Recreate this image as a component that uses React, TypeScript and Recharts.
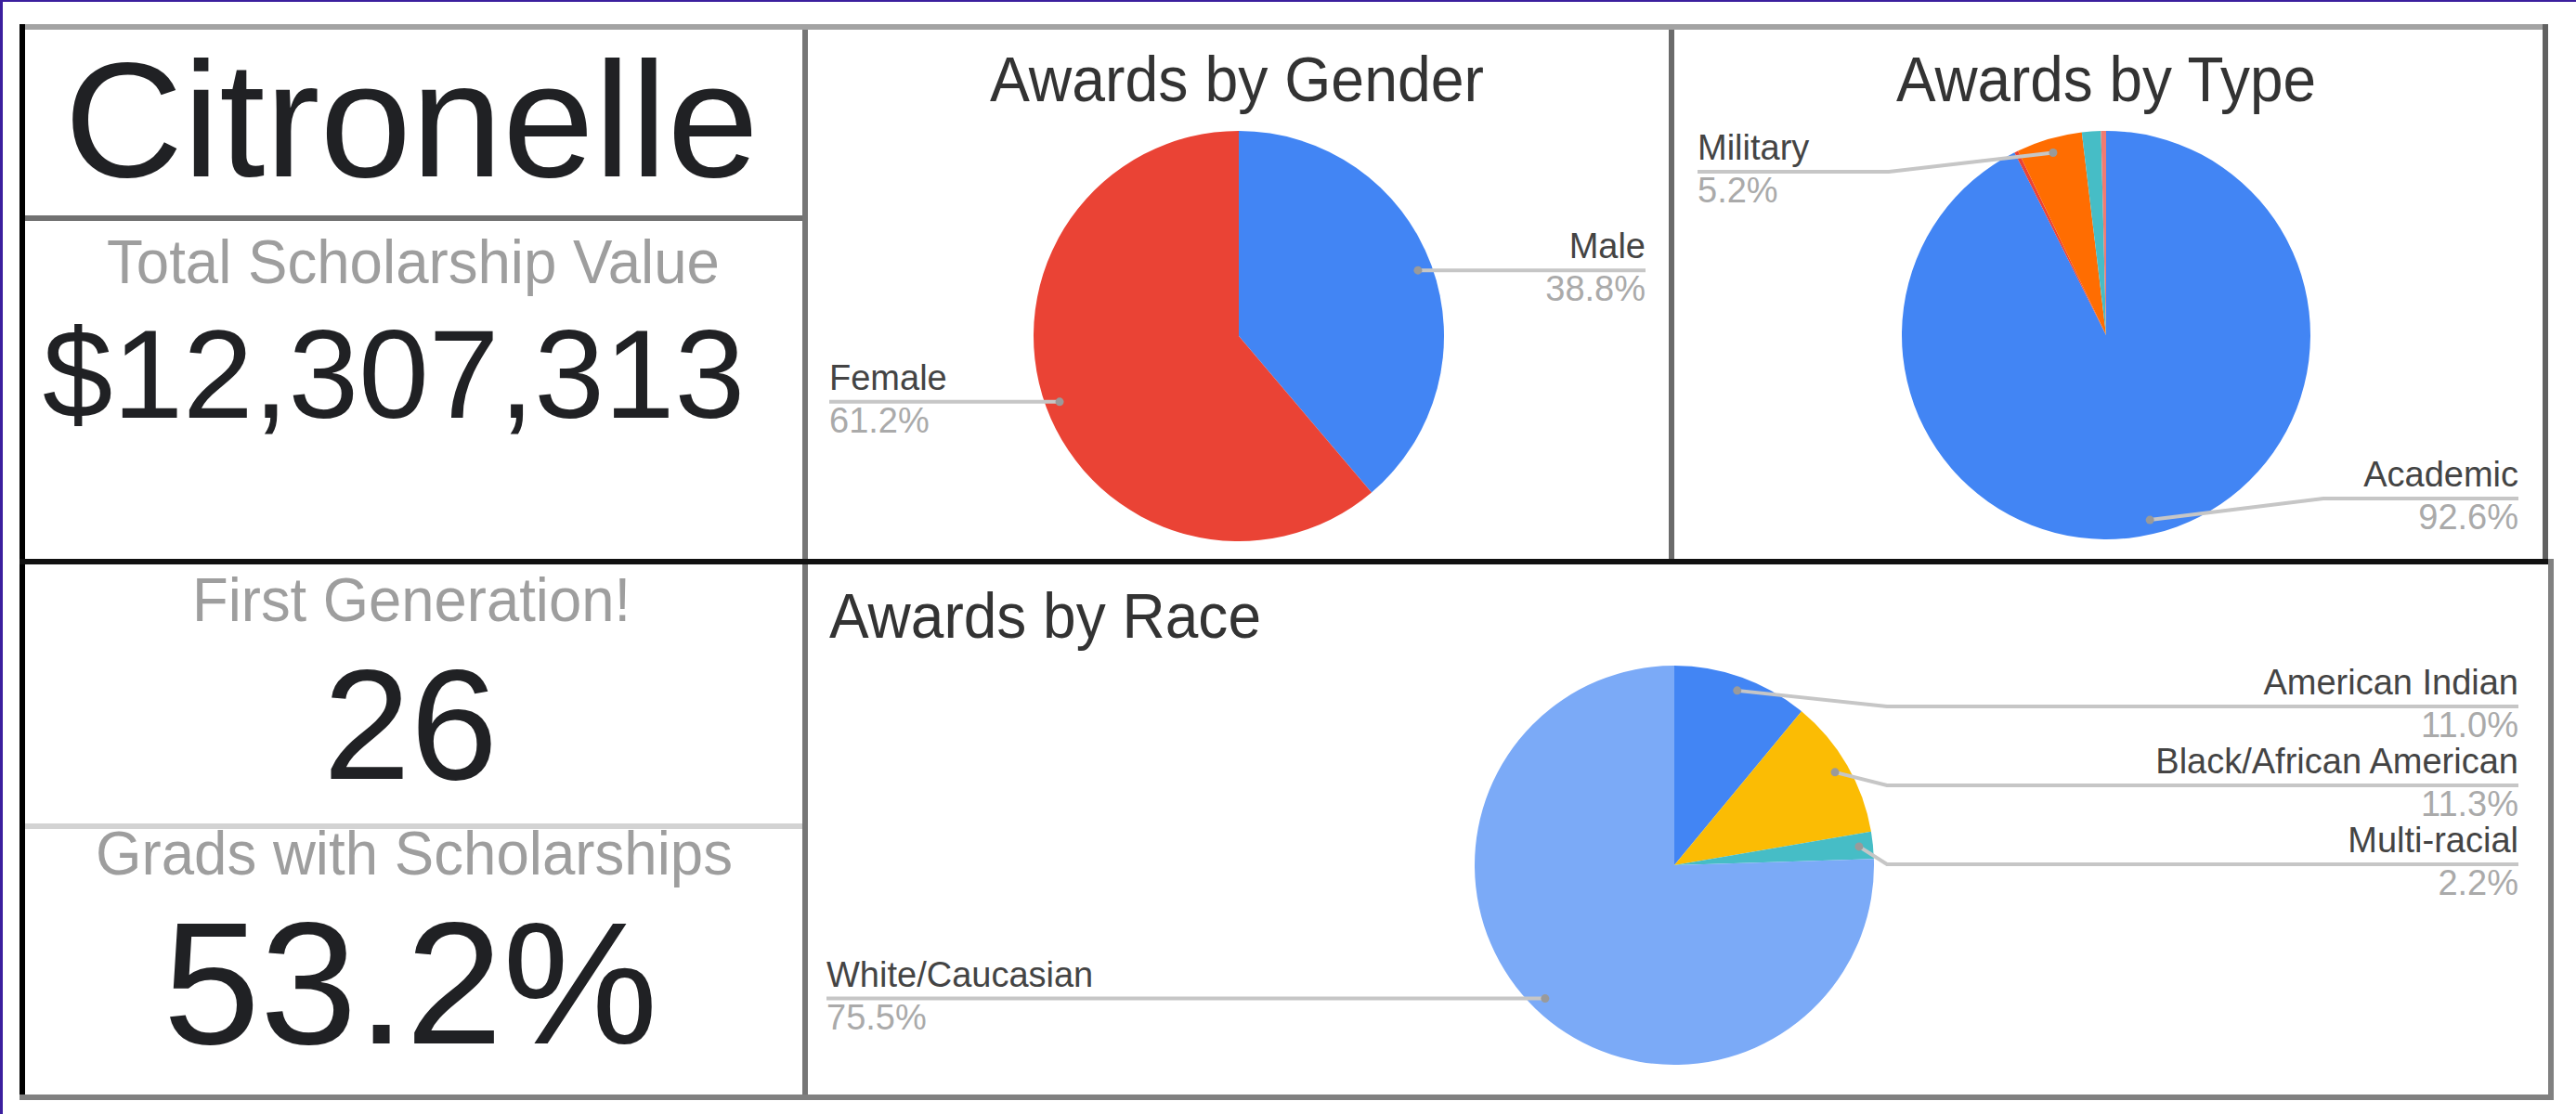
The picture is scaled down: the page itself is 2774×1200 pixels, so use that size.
import { PieChart, Pie, Cell } from "recharts";

const FONT = "'Liberation Sans', Arial, Helvetica, sans-serif";

// Awards by Gender
const genderNames = ["Male", "Female"];
const genderValues = [38.8, 61.2];
const genderColors = ["#4285F4", "#EA4335"];

// Awards by Type (the three thin slices have no label in the source)
const typeNames = ["Academic", "Athletic", "Military", "Community", "Other"];
const typeValues = [92.6, 0.3, 5.2, 1.5, 0.4];
const typeColors = ["#4285F4", "#EA4335", "#FF6D01", "#46BDC6", "#F07B72"];

// Awards by Race
const raceNames = ["American Indian", "Black/African American", "Multi-racial", "White/Caucasian"];
const raceValues = [11.0, 11.3, 2.2, 75.5];
const raceColors = ["#4285F4", "#FBBC04", "#46BDC6", "#7BAAF7"];

// KPI tiles
const schoolName = "Citronelle";
const totalValueLabel = "Total Scholarship Value";
const totalValue = 12307313;
const firstGenLabel = "First Generation!";
const firstGenCount = 26;
const gradsLabel = "Grads with Scholarships";
const gradsPct = 53.2;

const DOT = 0.93; // leader dot sits at 93% of the radius
const MIN_LABEL = 0.02; // slices below 2% get no label
const EDGE_GAP = 44;
const STACK_GAP = 85;
const KNEE = 14;

// google-style label stacking: one row per side, kept inside the pie's height
function stackLabels(values: number[], cy: number, radius: number) {
  const total = values.reduce((a, b) => a + b, 0);
  let cum = 0;
  const items = values.map((v, i) => {
    const theta = ((cum + v / 2) / total) * Math.PI * 2;
    cum += v;
    return {
      i,
      side: Math.sin(theta) >= 0 ? 1 : -1,
      y: cy - DOT * radius * Math.cos(theta),
      show: v / total >= MIN_LABEL,
    };
  });
  const lineY: number[] = [];
  [1, -1].forEach((side) => {
    const list = items.filter((it) => it.show && it.side === side).sort((a, b) => a.y - b.y);
    let prev = -Infinity;
    list.forEach((it) => {
      let y = Math.min(Math.max(it.y, cy - radius + EDGE_GAP), cy + radius - EDGE_GAP);
      y = Math.max(y, prev + STACK_GAP);
      lineY[it.i] = y;
      prev = y;
    });
  });
  return lineY;
}

interface PieCardProps {
  left: number;
  top: number;
  width: number;
  height: number;
  names: string[];
  values: number[];
  colors: string[];
  cx: number;
  cy: number;
  radius: number;
  padLeft: number;
  padRight: number;
}

function PieCard({ left, top, width, height, names, values, colors, cx, cy, radius, padLeft, padRight }: PieCardProps) {
  const data = names.map((name, i) => ({ name, value: values[i] }));
  const lineY = stackLabels(values, cy, radius);

  const renderLabel = (p: any) => {
    if (p.percent < MIN_LABEL) return null;
    const rad = (-p.midAngle * Math.PI) / 180;
    const px = p.cx + p.outerRadius * DOT * Math.cos(rad);
    const py = p.cy + p.outerRadius * DOT * Math.sin(rad);
    const right = Math.cos(rad) >= 0;
    const ly = lineY[p.index];
    const edge = right ? width - padRight : padLeft;
    const knee = right ? p.cx + p.outerRadius + KNEE : p.cx - p.outerRadius - KNEE;
    const pts =
      Math.abs(ly - py) < 1 ? `${px},${py} ${edge},${ly}` : `${px},${py} ${knee},${ly} ${edge},${ly}`;
    const anchor = right ? "end" : "start";
    return (
      <g key={`lbl-${p.index}`}>
        <polyline points={pts} fill="none" stroke="#c6c6c6" strokeWidth={4} />
        <circle cx={px} cy={py} r={4.5} fill="#9a9a9a" />
        <text x={edge} y={ly - 13} textAnchor={anchor} fontSize={38} fontFamily={FONT} fill="#444">
          {p.name}
        </text>
        <text x={edge} y={ly + 33} textAnchor={anchor} fontSize={38} fontFamily={FONT} fill="#aaa">
          {(p.percent * 100).toFixed(1) + "%"}
        </text>
      </g>
    );
  };

  return (
    <div style={{ position: "absolute", left, top, width, height }}>
      <PieChart width={width} height={height} margin={{ top: 0, right: 0, bottom: 0, left: 0 }}>
        <Pie
          data={data}
          dataKey="value"
          nameKey="name"
          cx={cx}
          cy={cy}
          outerRadius={radius}
          startAngle={90}
          endAngle={-270}
          stroke="none"
          label={renderLabel}
          labelLine={false}
          isAnimationActive={false}
        >
          {data.map((d, i) => (
            <Cell key={d.name} fill={colors[i]} stroke="none" />
          ))}
        </Pie>
      </PieChart>
    </div>
  );
}

function Rule({ x, y, w, h, c }: { x: number; y: number; w: number; h: number; c: string }) {
  return <div style={{ position: "absolute", left: x, top: y, width: w, height: h, background: c }} />;
}

export default function App() {
  const dark = "#202124";
  const grey = "#9e9e9e";
  return (
    <div
      style={{
        position: "absolute",
        left: 0,
        top: 0,
        width: 2774,
        height: 1200,
        background: "#fff",
        overflow: "hidden",
        fontFamily: FONT,
      }}
    >
      {/* frame */}
      <Rule x={0} y={0} w={2774} h={2} c="#3b1f9e" />
      <Rule x={0} y={0} w={3} h={1200} c="#3b1f9e" />
      <Rule x={27} y={26} w={2711} h={6} c="#a3a3a3" />
      <Rule x={21} y={26} w={6} h={1159} c="#000" />
      <Rule x={864} y={32} w={6} h={1147} c="#767676" />
      <Rule x={27} y={232} w={837} h={6} c="#717171" />
      <Rule x={1797} y={32} w={6} h={570} c="#6b6b6b" />
      <Rule x={2738} y={26} w={6} h={576} c="#616161" />
      <Rule x={2744} y={602} w={6} h={583} c="#808080" />
      <Rule x={21} y={1179} w={2729} h={6} c="#808080" />
      <Rule x={27} y={887} w={837} h={6} c="#d3d3d3" />
      <Rule x={21} y={602} w={2723} h={6} c="#111" />

      <svg width={2774} height={1200} style={{ position: "absolute", left: 0, top: 0 }}>
        <g fontFamily={FONT}>
          <text x={443} y={190} textAnchor="middle" fontSize={177} fill={dark}>
            {schoolName}
          </text>
          <text x={445} y={305} textAnchor="middle" fontSize={66} fill={grey} textLength={660} lengthAdjust="spacingAndGlyphs">
            {totalValueLabel}
          </text>
          <text x={424} y={450} textAnchor="middle" fontSize={136} fill={dark}>
            {"$" + totalValue.toLocaleString("en-US")}
          </text>
          <text x={443} y={669} textAnchor="middle" fontSize={67} fill={grey} textLength={472} lengthAdjust="spacingAndGlyphs">
            {firstGenLabel}
          </text>
          <text x={442} y={839} textAnchor="middle" fontSize={169} fill={dark}>
            {firstGenCount}
          </text>
          <text x={446} y={942} textAnchor="middle" fontSize={67} fill={grey} textLength={686} lengthAdjust="spacingAndGlyphs">
            {gradsLabel}
          </text>
          <text x={442} y={1124} textAnchor="middle" fontSize={188} fill={dark}>
            {gradsPct.toFixed(1) + "%"}
          </text>

          <text x={1332} y={109} textAnchor="middle" fontSize={68} fill="#333" textLength={532} lengthAdjust="spacingAndGlyphs">
            Awards by Gender
          </text>
          <text x={2268} y={109} textAnchor="middle" fontSize={68} fill="#333" textLength={452} lengthAdjust="spacingAndGlyphs">
            Awards by Type
          </text>
          <text x={893} y={687} textAnchor="start" fontSize={68} fill="#333" textLength={465} lengthAdjust="spacingAndGlyphs">
            Awards by Race
          </text>
        </g>
      </svg>

      <PieCard
        left={870}
        top={32}
        width={927}
        height={570}
        names={genderNames}
        values={genderValues}
        colors={genderColors}
        cx={464}
        cy={330}
        radius={221}
        padLeft={23}
        padRight={25}
      />
      <PieCard
        left={1803}
        top={32}
        width={935}
        height={570}
        names={typeNames}
        values={typeValues}
        colors={typeColors}
        cx={465}
        cy={329}
        radius={220}
        padLeft={25}
        padRight={26}
      />
      <PieCard
        left={870}
        top={608}
        width={1874}
        height={571}
        names={raceNames}
        values={raceValues}
        colors={raceColors}
        cx={933}
        cy={324}
        radius={215}
        padLeft={20}
        padRight={32}
      />
    </div>
  );
}
